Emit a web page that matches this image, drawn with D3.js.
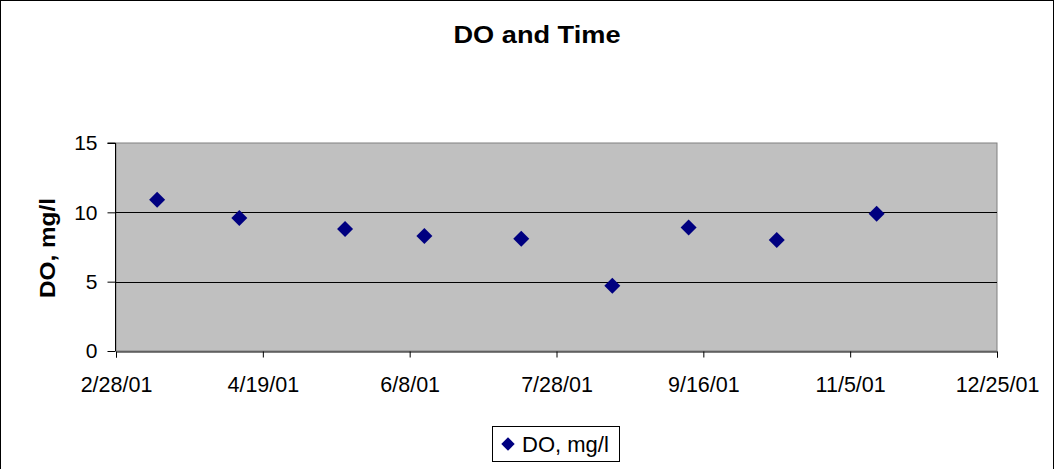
<!DOCTYPE html>
<html lang="en">
<head>
	<meta charset="utf-8">
	<title>DO and Time</title>
	<script src="https://cdn.jsdelivr.net/npm/d3@7"></script>
	<style>
		body { margin: 0; background: #fff; }
		text { font-family: "Liberation Sans", Arial, sans-serif; }
	</style>
</head>
<body>
<script>
	// Sample dates and dissolved oxygen readings
	var sampleDates = ["2001-03-14", "2001-04-11", "2001-05-17", "2001-06-13", "2001-07-16",
	                   "2001-08-16", "2001-09-11", "2001-10-11", "2001-11-14"];
	var doValues = [10.9, 9.6, 8.8, 8.3, 8.1, 4.7, 8.9, 8.0, 9.9];
	var yTicks = [0, 5, 10, 15];
	var xTickLabels = ["2/28/01", "4/19/01", "6/8/01", "7/28/01", "9/16/01", "11/5/01", "12/25/01"];

	var parse = d3.timeParse("%Y-%m-%d");
	var tickParse = d3.timeParse("%m/%d/%y");
	var dataset = sampleDates.map(function(d, i) { return {date: parse(d), value: doValues[i]}; });
	var xTicks = xTickLabels.map(function(s) { return tickParse(s); });

	var width = 1055, height = 469;
	var plot = {left: 116, top: 143, right: 997, bottom: 351};

	var svg = d3.select("body").append("svg")
		.attr("width", width)
		.attr("height", height);

	// outer chart frame
	svg.append("rect")
		.attr("x", 0.5).attr("y", 0.5)
		.attr("width", width - 2).attr("height", height + 5)
		.attr("fill", "#fff").attr("stroke", "#000");

	var xScale = d3.scaleTime()
		.domain([xTicks[0], xTicks[xTicks.length - 1]])
		.range([plot.left, plot.right]);
	var yScale = d3.scaleLinear()
		.domain([0, 15])
		.range([plot.bottom, plot.top]);

	// plot area
	svg.append("rect")
		.attr("x", plot.left).attr("y", plot.top)
		.attr("width", plot.right - plot.left).attr("height", plot.bottom - plot.top)
		.attr("fill", "#c0c0c0").attr("stroke", "#808080");

	// gridlines
	svg.selectAll(".grid")
		.data(yTicks.filter(function(t) { return t > 0 && t < 15; }))
		.enter().append("line")
		.attr("x1", plot.left).attr("x2", plot.right)
		.attr("y1", function(d) { return Math.round(yScale(d)) + 0.5; })
		.attr("y2", function(d) { return Math.round(yScale(d)) + 0.5; })
		.attr("stroke", "#000");

	// y axis
	var yAxis = d3.axisLeft(yScale).tickValues(yTicks).tickSize(8).tickPadding(10);
	var gy = svg.append("g")
		.attr("transform", "translate(" + (plot.left - 0.5) + ",0)")
		.call(yAxis);
	gy.select(".domain").attr("d", "M-8," + plot.top + "H0V" + plot.bottom);

	// x axis
	var xAxis = d3.axisBottom(xScale).tickValues(xTicks).tickSize(6).tickPadding(19)
		.tickFormat(function(d, i) { return xTickLabels[i]; });
	var gx = svg.append("g")
		.attr("transform", "translate(0," + (plot.bottom + 0.5) + ")")
		.call(xAxis);

	svg.selectAll(".tick text").attr("font-size", 21.5).attr("fill", "#000");
	svg.selectAll(".domain, .tick line").attr("stroke", "#000");
	gy.selectAll(".tick text").attr("font-size", 21);

	// title
	svg.append("text")
		.attr("x", 537).attr("y", 43)
		.attr("text-anchor", "middle")
		.attr("font-size", 23).attr("font-weight", "bold")
		.attr("textLength", 167).attr("lengthAdjust", "spacingAndGlyphs")
		.text("DO and Time");

	// y axis label
	svg.append("text")
		.attr("transform", "translate(55," + ((plot.top + plot.bottom) / 2 + 1) + ") rotate(-90)")
		.attr("text-anchor", "middle")
		.attr("font-size", 22).attr("font-weight", "bold")
		.attr("textLength", 100).attr("lengthAdjust", "spacingAndGlyphs")
		.text("DO, mg/l");

	// points
	var diamond = d3.symbol().type(d3.symbolSquare).size(128);
	svg.selectAll(".pt")
		.data(dataset)
		.enter().append("path")
		.attr("class", "pt")
		.attr("d", diamond)
		.attr("transform", function(d) {
			return "translate(" + xScale(d.date) + "," + yScale(d.value) + ") rotate(45)";
		})
		.attr("fill", "#000080");

	// legend
	var lg = svg.append("g").attr("transform", "translate(492,426)");
	lg.append("rect").attr("x", 0.5).attr("y", 0.5).attr("width", 127).attr("height", 35)
		.attr("fill", "#fff").attr("stroke", "#000");
	lg.append("path").attr("d", d3.symbol().type(d3.symbolSquare).size(90))
		.attr("transform", "translate(16,18) rotate(45)").attr("fill", "#000080");
	lg.append("text").attr("x", 30).attr("y", 26).attr("font-size", 22).text("DO, mg/l");
</script>
</body>
</html>
